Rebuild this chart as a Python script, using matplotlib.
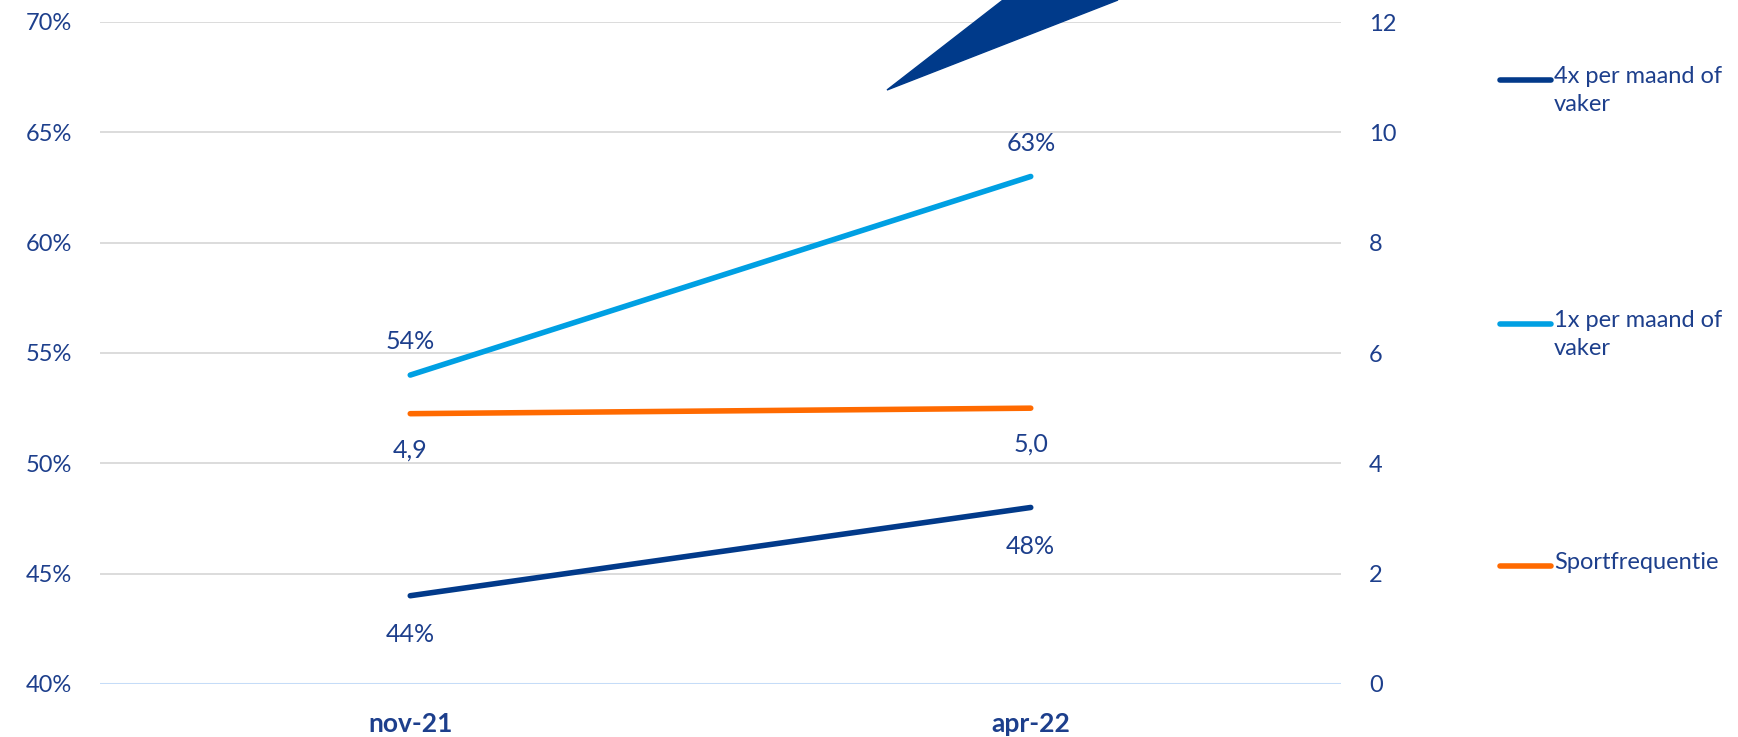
import matplotlib
matplotlib.use("Agg")
import matplotlib.pyplot as plt
from matplotlib.lines import Line2D
from matplotlib.patches import Polygon

categories = ["nov-21", "apr-22"]
s4x = [44, 48]
s1x = [54, 63]
sport = [4.9, 5.0]
labels_4x = ["44%", "48%"]
labels_1x = ["54%", "63%"]
labels_sport = ["4,9", "5,0"]
left_ticks = [40, 45, 50, 55, 60, 65, 70]
right_ticks = [0, 2, 4, 6, 8, 10, 12]
legend_names = ["4x per maand of\nvaker", "1x per maand of\nvaker", "Sportfrequentie"]

DARK = "#023A8A"
LIGHT = "#00A0E3"
ORANGE = "#FF6A00"
TXT = "#1D3F8C"
FONT = ["Lato", "DejaVu Sans"]
plt.rcParams["font.family"] = FONT

W, H = 1738, 737
fig = plt.figure(figsize=(W / 100, H / 100), dpi=100)
ax = fig.add_axes([100 / W, 53 / H, (1341 - 100) / W, (684 - 22) / H])
ax2 = ax.twinx()

x = list(range(len(categories)))
ax.set_xlim(-0.5, len(categories) - 0.5)
ax.set_ylim(40, 70)
ax2.set_ylim(0, 12)

for y in left_ticks[1:]:
    ax.axhline(y, color="#D9D9D9", lw=1.3, zorder=0)
ax.axhline(40, color="#C5DCF8", lw=2.2, zorder=0)

ax.plot(x, s4x, color=DARK, lw=4, solid_capstyle="round", zorder=3)
ax.plot(x, s1x, color=LIGHT, lw=4, solid_capstyle="round", zorder=3)
ax2.plot(x, sport, color=ORANGE, lw=4, solid_capstyle="round", zorder=3)

LBL = 18
for xi, v, t in zip(x, s4x, labels_4x):
    ax.annotate(t, (xi, v), xytext=(0, -28), textcoords="offset points",
                ha="center", va="center", fontsize=LBL, color=TXT)
for xi, v, t in zip(x, s1x, labels_1x):
    ax.annotate(t, (xi, v), xytext=(0, 24), textcoords="offset points",
                ha="center", va="center", fontsize=LBL, color=TXT)
for xi, v, t in zip(x, sport, labels_sport):
    ax2.annotate(t, (xi, v), xytext=(0, -26), textcoords="offset points",
                 ha="center", va="center", fontsize=LBL, color=TXT)

for a in (ax, ax2):
    for s in a.spines.values():
        s.set_visible(False)

ax.set_xticks(x)
ax.set_xticklabels(categories, fontsize=19, fontweight="bold", color=TXT)
ax.set_yticks(left_ticks)
ax.set_yticklabels([f"{v}%" for v in left_ticks], fontsize=17, color=TXT)
ax2.set_yticks(right_ticks)
ax2.set_yticklabels([str(v) for v in right_ticks], fontsize=17, color=TXT, ha="left")
ax.tick_params(axis="both", length=0)
ax.tick_params(axis="y", pad=20)
ax.tick_params(axis="x", pad=20)
ax2.tick_params(axis="y", length=0, pad=20)

# legend
leg_y = [80, 324, 566]
leg_colors = [DARK, LIGHT, ORANGE]
for yy, c, name in zip(leg_y, leg_colors, legend_names):
    fy = 1 - yy / H
    fig.add_artist(Line2D([1500 / W, 1551 / W], [fy, fy], color=c, lw=4,
                          solid_capstyle="round", transform=fig.transFigure))
    fig.text(1554 / W, fy + 14 / H, name, fontsize=17, color=TXT,
             ha="left", va="top", linespacing=1.4)

# stray decorative triangle at top
tri = Polygon([[887 / W, 1 - 90 / H], [1003 / W, 1.0], [1118 / W, 1.0]],
              closed=True, color="#003A8A", transform=fig.transFigure)
fig.add_artist(tri)

fig.savefig("out.png", dpi=100, facecolor="white")
